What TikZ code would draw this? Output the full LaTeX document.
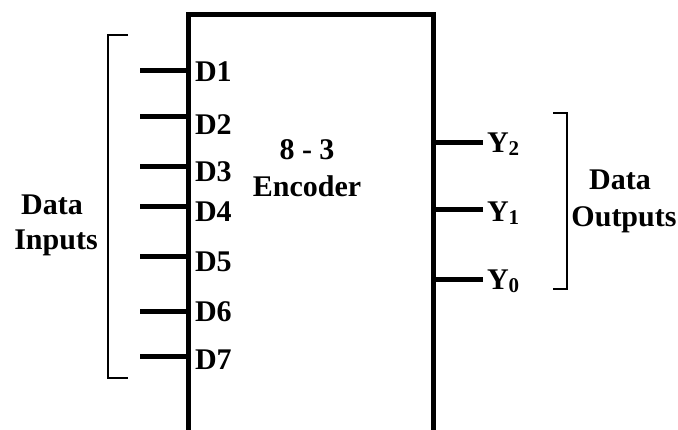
\documentclass[tikz,border=0pt]{standalone}
\usepackage{fontspec}
\setmainfont{Liberation Serif}
\usepackage{tikz}
\usetikzlibrary{positioning,calc}

\newcommand{\lowsub}[1]{\raisebox{-2.5pt}{\fontsize{21}{21}\selectfont #1}}

\begin{document}
\begin{tikzpicture}[x=1pt,y=-1pt, every node/.style={font=\fontsize{30}{31}\selectfont\bfseries, inner sep=0pt, outer sep=0pt},
  wire/.style={line width=5pt}, bracket/.style={line width=2.8pt}]
  \useasboundingbox (0,0) rectangle (678,430);
  \fill[white] (0,0) rectangle (678,430);
  % encoder block, runs off the bottom edge
  \node[draw, line width=5pt, minimum width=245pt, minimum height=450pt, anchor=north west] (enc) at (188,15) {};
  \node[anchor=base] (title) at (307,160) {8 - 3};
  \node[anchor=base] (name) at (307,197) {Encoder};
  % inputs
  \foreach \n/\y/\b in {1/71/82,2/117/135,3/167/182,4/207/222,5/257/272,6/312/322,7/357/370} {
    \coordinate (in\n) at (140,\y);
    \draw[wire] (in\n) -- (in\n -| enc.west);
    \node[anchor=base west] (d\n) at (195,\b) {D\n};
  }
  % outputs
  \foreach \n/\y/\b in {2/143/153,1/210/222,0/280/290} {
    \coordinate (out\n) at (483,\y);
    \draw[wire] (out\n -| enc.east) -- (out\n);
    \node[anchor=base west] (y\n) at (487,\b) {Y\lowsub{\n}};
  }
  % brackets
  \draw[bracket] (128,35) -- (108,35) -- (108,378) -- (128,378);
  \draw[bracket] (553,113) -- (567,113) -- (567,289) -- (553,289);
  \node[anchor=base] (datain) at (52,215) {Data};
  \node[anchor=base] (inputs) at (56,250) {Inputs};
  \node[anchor=base] (dataout) at (620,190) {Data};
  \node[anchor=base] (outputs) at (624,227) {Outputs};
\end{tikzpicture}
\end{document}
